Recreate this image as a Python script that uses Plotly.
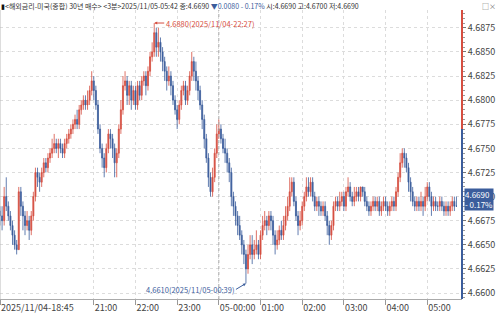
import pandas as pd
import plotly.graph_objects as go

# ---------------- data (3-minute bars, 2025/11/04 18:45 -> 2025/11/05 05:42) ----------------
first_open = 4.6685
closes = [
    4.6680, 4.6675, 4.6700, 4.6690, 4.6680, 4.6670, 4.6660, 4.6650, 4.6645, 4.6705,
    4.6690, 4.6680, 4.6670, 4.6675, 4.6665, 4.6680, 4.6700, 4.6725, 4.6720, 4.6715,
    4.6725, 4.6735, 4.6730, 4.6740, 4.6745, 4.6750, 4.6755, 4.6750, 4.6755, 4.6750,
    4.6745, 4.6755, 4.6760, 4.6765, 4.6770, 4.6775, 4.6780, 4.6775, 4.6790, 4.6795,
    4.6800, 4.6795, 4.6800, 4.6810, 4.6820, 4.6810, 4.6795, 4.6770, 4.6750, 4.6740,
    4.6730, 4.6750, 4.6765, 4.6760, 4.6750, 4.6735, 4.6745, 4.6770, 4.6790, 4.6815,
    4.6820, 4.6805, 4.6815, 4.6800, 4.6810, 4.6795, 4.6815, 4.6805, 4.6820, 4.6825,
    4.6815, 4.6830, 4.6845, 4.6850, 4.6870, 4.6855, 4.6860, 4.6850, 4.6840, 4.6830,
    4.6820, 4.6825, 4.6815, 4.6800, 4.6790, 4.6780, 4.6795, 4.6810, 4.6815, 4.6800,
    4.6810, 4.6825, 4.6840, 4.6830, 4.6820, 4.6810, 4.6795, 4.6780, 4.6760, 4.6740,
    4.6720, 4.6705, 4.6720, 4.6745, 4.6765, 4.6770, 4.6760, 4.6750, 4.6745, 4.6735,
    4.6725, 4.6700, 4.6690, 4.6680, 4.6670, 4.6660, 4.6650, 4.6640, 4.6625, 4.6640,
    4.6650, 4.6640, 4.6645, 4.6650, 4.6640, 4.6660, 4.6670, 4.6675, 4.6670, 4.6680,
    4.6675, 4.6660, 4.6650, 4.6655, 4.6665, 4.6660, 4.6670, 4.6680, 4.6690, 4.6705,
    4.6715, 4.6695, 4.6680, 4.6670, 4.6675, 4.6690, 4.6700, 4.6710, 4.6705, 4.6715,
    4.6700, 4.6690, 4.6695, 4.6690, 4.6685, 4.6690, 4.6680, 4.6670, 4.6660, 4.6670,
    4.6690, 4.6695, 4.6690, 4.6695, 4.6700, 4.6690, 4.6705, 4.6710, 4.6700, 4.6695,
    4.6700, 4.6705, 4.6700, 4.6710, 4.6705, 4.6695, 4.6690, 4.6685, 4.6690, 4.6695,
    4.6690, 4.6695, 4.6685, 4.6690, 4.6695, 4.6690, 4.6685, 4.6690, 4.6695, 4.6690,
    4.6705, 4.6720, 4.6735, 4.6745, 4.6740, 4.6730, 4.6715, 4.6705, 4.6695, 4.6690,
    4.6695, 4.6690, 4.6695, 4.6690, 4.6700, 4.6710, 4.6700, 4.6690, 4.6695, 4.6690,
    4.6690, 4.6695, 4.6690, 4.6685, 4.6690, 4.6685, 4.6690, 4.6695, 4.6690, 4.6690,
]
highs = [
    4.6690, 4.6690, 4.6710, 4.6720, 4.6695, 4.6685, 4.6675, 4.6665, 4.6655, 4.6710,
    4.6710, 4.6695, 4.6685, 4.6685, 4.6680, 4.6685, 4.6705, 4.6730, 4.6730, 4.6725,
    4.6730, 4.6740, 4.6740, 4.6745, 4.6750, 4.6760, 4.6765, 4.6760, 4.6760, 4.6760,
    4.6755, 4.6760, 4.6765, 4.6770, 4.6775, 4.6780, 4.6785, 4.6790, 4.6795, 4.6800,
    4.6805, 4.6805, 4.6810, 4.6815, 4.6830, 4.6825, 4.6815, 4.6800, 4.6775, 4.6755,
    4.6745, 4.6755, 4.6770, 4.6770, 4.6765, 4.6755, 4.6750, 4.6775, 4.6800, 4.6825,
    4.6830, 4.6825, 4.6820, 4.6820, 4.6815, 4.6815, 4.6820, 4.6820, 4.6825, 4.6830,
    4.6830, 4.6835, 4.6850, 4.6860, 4.6880, 4.6875, 4.6875, 4.6865, 4.6855, 4.6845,
    4.6835, 4.6835, 4.6830, 4.6820, 4.6805, 4.6795, 4.6800, 4.6815, 4.6820, 4.6820,
    4.6815, 4.6830, 4.6850, 4.6845, 4.6840, 4.6825, 4.6815, 4.6800, 4.6785, 4.6765,
    4.6745, 4.6725, 4.6730, 4.6750, 4.6775, 4.6780, 4.6775, 4.6765, 4.6760, 4.6750,
    4.6740, 4.6730, 4.6705, 4.6695, 4.6685, 4.6680, 4.6665, 4.6655, 4.6645, 4.6650,
    4.6660, 4.6660, 4.6655, 4.6665, 4.6655, 4.6665, 4.6680, 4.6685, 4.6680, 4.6685,
    4.6685, 4.6680, 4.6665, 4.6665, 4.6670, 4.6675, 4.6680, 4.6690, 4.6700, 4.6720,
    4.6720, 4.6720, 4.6700, 4.6685, 4.6685, 4.6695, 4.6705, 4.6720, 4.6720, 4.6720,
    4.6720, 4.6705, 4.6700, 4.6700, 4.6695, 4.6695, 4.6695, 4.6685, 4.6675, 4.6675,
    4.6695, 4.6700, 4.6700, 4.6705, 4.6705, 4.6705, 4.6710, 4.6720, 4.6715, 4.6705,
    4.6710, 4.6710, 4.6710, 4.6710, 4.6710, 4.6710, 4.6700, 4.6695, 4.6695, 4.6700,
    4.6700, 4.6700, 4.6700, 4.6695, 4.6700, 4.6700, 4.6695, 4.6695, 4.6700, 4.6700,
    4.6710, 4.6725, 4.6745, 4.6750, 4.6750, 4.6745, 4.6735, 4.6720, 4.6710, 4.6700,
    4.6700, 4.6700, 4.6705, 4.6700, 4.6710, 4.6715, 4.6715, 4.6705, 4.6700, 4.6700,
    4.6695, 4.6700, 4.6700, 4.6695, 4.6695, 4.6695, 4.6695, 4.6700, 4.6700, 4.6700,
]
lows = [
    4.6670, 4.6665, 4.6670, 4.6685, 4.6675, 4.6665, 4.6650, 4.6645, 4.6640, 4.6645,
    4.6680, 4.6665, 4.6660, 4.6665, 4.6655, 4.6660, 4.6675, 4.6695, 4.6710, 4.6705,
    4.6710, 4.6720, 4.6725, 4.6725, 4.6735, 4.6740, 4.6745, 4.6745, 4.6740, 4.6745,
    4.6740, 4.6740, 4.6750, 4.6755, 4.6760, 4.6765, 4.6770, 4.6770, 4.6770, 4.6785,
    4.6790, 4.6790, 4.6790, 4.6795, 4.6805, 4.6800, 4.6790, 4.6765, 4.6745, 4.6730,
    4.6720, 4.6725, 4.6745, 4.6750, 4.6740, 4.6720, 4.6720, 4.6740, 4.6765, 4.6785,
    4.6810, 4.6795, 4.6795, 4.6790, 4.6795, 4.6790, 4.6790, 4.6800, 4.6800, 4.6815,
    4.6805, 4.6810, 4.6825, 4.6840, 4.6845, 4.6845, 4.6845, 4.6840, 4.6830, 4.6820,
    4.6810, 4.6815, 4.6805, 4.6795, 4.6785, 4.6770, 4.6775, 4.6790, 4.6805, 4.6795,
    4.6795, 4.6805, 4.6820, 4.6820, 4.6810, 4.6800, 4.6790, 4.6770, 4.6750, 4.6735,
    4.6710, 4.6700, 4.6700, 4.6715, 4.6740, 4.6760, 4.6755, 4.6745, 4.6735, 4.6725,
    4.6715, 4.6690, 4.6680, 4.6670, 4.6660, 4.6655, 4.6640, 4.6630, 4.6610, 4.6620,
    4.6635, 4.6630, 4.6635, 4.6640, 4.6635, 4.6635, 4.6655, 4.6665, 4.6660, 4.6665,
    4.6665, 4.6650, 4.6640, 4.6645, 4.6650, 4.6655, 4.6655, 4.6665, 4.6675, 4.6685,
    4.6700, 4.6690, 4.6675, 4.6660, 4.6665, 4.6670, 4.6685, 4.6695, 4.6700, 4.6700,
    4.6695, 4.6685, 4.6685, 4.6680, 4.6680, 4.6680, 4.6675, 4.6660, 4.6650, 4.6655,
    4.6665, 4.6685, 4.6685, 4.6685, 4.6690, 4.6685, 4.6685, 4.6700, 4.6695, 4.6690,
    4.6690, 4.6695, 4.6695, 4.6695, 4.6700, 4.6690, 4.6685, 4.6680, 4.6680, 4.6685,
    4.6685, 4.6685, 4.6680, 4.6680, 4.6685, 4.6685, 4.6680, 4.6680, 4.6685, 4.6685,
    4.6685, 4.6700, 4.6715, 4.6730, 4.6730, 4.6725, 4.6705, 4.6695, 4.6690, 4.6685,
    4.6685, 4.6685, 4.6685, 4.6680, 4.6685, 4.6695, 4.6695, 4.6680, 4.6685, 4.6685,
    4.6685, 4.6685, 4.6685, 4.6680, 4.6680, 4.6680, 4.6680, 4.6685, 4.6685, 4.6690,
]
opens = [first_open] + closes[:-1]

start_time = "2025-11-04 18:45"
times = pd.date_range(start_time, periods=len(closes), freq="3min")

tick_times = ["2025-11-04 18:45", "2025-11-04 21:00", "2025-11-04 22:00", "2025-11-04 23:00",
              "2025-11-05 00:00", "2025-11-05 01:00", "2025-11-05 02:00", "2025-11-05 03:00",
              "2025-11-05 04:00", "2025-11-05 05:00"]
tick_labels = ["2025/11/04-18:45", "21:00", "22:00", "23:00", "05-00:00",
               "01:00", "02:00", "03:00", "04:00", "05:00"]

prev_close = 4.6770
last_price = 4.6690
max_time, max_val = "2025-11-04 22:27", 4.6880
min_time, min_val = "2025-11-05 00:39", 4.6610

RED = "#d64e40"
BLUE = "#3b5d9c"
FONT = "Liberation Sans Narrow, Noto Sans CJK KR, sans-serif"

fig = go.Figure()
fig.add_trace(go.Candlestick(
    x=times, open=opens, high=highs, low=lows, close=closes,
    increasing=dict(line=dict(color=RED, width=0.8), fillcolor=RED),
    decreasing=dict(line=dict(color=BLUE, width=0.8), fillcolor=BLUE),
    whiskerwidth=0, showlegend=False, hoverinfo="skip",
))

fig.update_layout(
    width=500, height=314,
    margin=dict(l=0, r=38, t=10, b=12),
    paper_bgcolor="white", plot_bgcolor="white",
    font=dict(family=FONT, size=9, color="#444"),
    showlegend=False,
    xaxis=dict(
        range=["2025-11-04 18:45", "2025-11-05 05:50"],
        rangeslider=dict(visible=False),
        tickvals=tick_times, ticktext=tick_labels,
        ticks="outside", ticklen=5, tickcolor="#999",
        ticklabelposition="outside right",
        tickfont=dict(size=9, color="#444", family=FONT),
        showgrid=True, gridcolor="#dcdcdc", griddash="dot", gridwidth=1,
        showline=True, linecolor="#aaa", linewidth=1, mirror=False,
        zeroline=False,
    ),
    yaxis=dict(
        side="right",
        range=[4.65938, 4.68935],
        dtick=0.0025, tick0=4.66, tickformat=".4f",
        ticks="outside", ticklen=3, tickcolor="#777",
        tickfont=dict(size=9, color="#444", family=FONT),
        minor=dict(dtick=0.0005, ticks="outside", ticklen=2, tickcolor="#999", showgrid=False),
        showgrid=True, gridcolor="#dcdcdc", griddash="dot", gridwidth=1,
        showline=False, zeroline=False,
    ),
)

# left border
fig.add_shape(type="line", xref="paper", yref="paper", x0=0, x1=0, y0=0, y1=1,
              line=dict(color="#bbb", width=1))
# midnight separator
fig.add_shape(type="line", xref="x", yref="paper", x0="2025-11-05 00:00", x1="2025-11-05 00:00",
              y0=0, y1=1, line=dict(color="#a8a8a8", width=1, dash="dot"))
# right axis coloured by previous close
fig.add_shape(type="line", xref="paper", yref="y", x0=1, x1=1, y0=prev_close, y1=4.6925,
              line=dict(color=RED, width=2))
fig.add_shape(type="line", xref="paper", yref="y", x0=1, x1=1, y0=4.65938, y1=prev_close,
              line=dict(color=BLUE, width=2))

# header
header = ("<span style='color:#111'>▮</span>&lt;해외금리-미국(종합) 30년 매수&gt; &lt;3분&gt;2025/11/05-05:42 종:4.6690 "
          f"<span style='color:{BLUE}'>▼0.0080 - 0.17%</span> 시:4.6690 고:4.6700 저:4.6690")
fig.add_annotation(xref="paper", yref="paper", x=0, y=1, xanchor="left", yanchor="top",
                   yshift=10, text=header, showarrow=False, borderpad=0,
                   font=dict(size=7, color="#333", family=FONT))
fig.add_annotation(xref="paper", yref="paper", x=1.075, y=1, xanchor="right", yanchor="top",
                   yshift=10, text="□×", showarrow=False, borderpad=0,
                   font=dict(size=7, color="#666"))

# max / min markers
fig.add_annotation(x=max_time, y=max_val, xref="x", yref="y",
                   text=f"{max_val:.4f}(2025/11/04-22:27)", showarrow=True,
                   ax=10, ay=0, xanchor="left", arrowhead=2, arrowsize=0.6, arrowwidth=1,
                   arrowcolor=RED, font=dict(size=7.5, color=RED, family=FONT))
fig.add_annotation(x=min_time, y=min_val, xref="x", yref="y",
                   text=f"{min_val:.4f}(2025/11/05-00:39)", showarrow=True,
                   ax=-10, ay=6, xanchor="right", arrowhead=2, arrowsize=0.6, arrowwidth=1,
                   arrowcolor=BLUE, font=dict(size=7.5, color=BLUE, family=FONT))

# current price label
fig.add_annotation(xref="paper", yref="y", x=1, y=4.6697, xanchor="left", yanchor="middle",
                   xshift=2, text=f"{last_price:.4f}<br>- 0.17%", showarrow=False, align="left",
                   bgcolor=BLUE, borderpad=0,
                   font=dict(size=8, color="white", family=FONT))

fig.write_html("out.html")
